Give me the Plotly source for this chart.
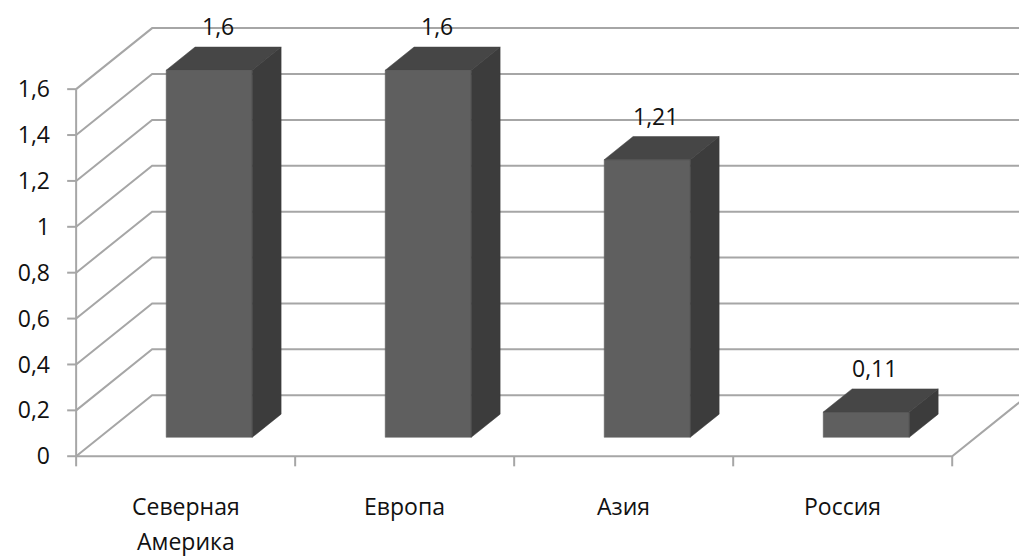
import plotly.graph_objects as go

# Data
categories = ["Северная<br>Америка", "Европа", "Азия", "Россия"]
values = [1.6, 1.6, 1.21, 0.11]
value_labels = ["1,6", "1,6", "1,21", "0,11"]
tick_values = [0, 0.2, 0.4, 0.6, 0.8, 1.0, 1.2, 1.4, 1.6]
tick_labels = ["0", "0,2", "0,4", "0,6", "0,8", "1", "1,2", "1,4", "1,6"]

# Oblique 3D projection (in axis units): offset of the full floor depth
DEPTH_X = 0.347
DEPTH_Y = 0.266
BAR_FRONT = 0.31      # bar front plane, as fraction of depth
BAR_BACK = 0.69       # bar back plane
BAR_WIDTH = 0.393     # bar width as fraction of category slot

GRID = "#a6a6a6"
FRONT = "#5f5f5f"
TOP = "#464646"
SIDE = "#3c3c3c"
TEXT = "#111111"
FONT = "Open Sans"
FONT_SIZE = 23

n = len(categories)
y_max = tick_values[-1]

fig = go.Figure()


def add_line(xs, ys, color=GRID, width=2):
    fig.add_trace(go.Scatter(x=xs, y=ys, mode="lines",
                             line=dict(color=color, width=width),
                             hoverinfo="skip", showlegend=False))


def add_face(xs, ys, color):
    fig.add_trace(go.Scatter(x=xs + [xs[0]], y=ys + [ys[0]], mode="lines",
                             fill="toself", fillcolor=color,
                             line=dict(color=color, width=0.5),
                             hoverinfo="skip", showlegend=False))


# Side-wall diagonals and back-wall gridlines
gx, gy = [], []
for t in tick_values:
    gx += [0, DEPTH_X, n + DEPTH_X, None]
    gy += [t, t + DEPTH_Y, t + DEPTH_Y, None]
add_line(gx, gy)

# Floor: front edge and right edge
add_line([0, n, n + DEPTH_X], [0, 0, DEPTH_Y])

# Category tick marks under the floor
cx, cy = [], []
for i in range(n + 1):
    cx += [i, i, None]
    cy += [0, -0.044, None]
add_line(cx, cy)

# Front value axis with its tick marks
add_line([0, 0], [0, y_max])
tx, ty = [], []
for t in tick_values:
    tx += [-0.041, 0, None]
    ty += [t, t, None]
add_line(tx, ty)

# Bars: front, top and right faces
ox0, oy0 = BAR_FRONT * DEPTH_X, BAR_FRONT * DEPTH_Y
ox1, oy1 = BAR_BACK * DEPTH_X, BAR_BACK * DEPTH_Y
for i, v in enumerate(values):
    xl = i + 0.5 - BAR_WIDTH / 2
    xr = i + 0.5 + BAR_WIDTH / 2
    add_face([xl + ox0, xr + ox0, xr + ox0, xl + ox0],
             [oy0, oy0, v + oy0, v + oy0], FRONT)
    add_face([xl + ox0, xr + ox0, xr + ox1, xl + ox1],
             [v + oy0, v + oy0, v + oy1, v + oy1], TOP)
    add_face([xr + ox0, xr + ox1, xr + ox1, xr + ox0],
             [oy0, oy1, v + oy1, v + oy0], SIDE)

annotations = []
# Value labels above the bars
for i, (v, lab) in enumerate(zip(values, value_labels)):
    annotations.append(dict(x=i + 0.5, y=v, xref="x", yref="y", text=lab,
                            showarrow=False, xshift=32, yshift=63,
                            xanchor="center", yanchor="middle",
                            font=dict(family=FONT, size=FONT_SIZE, color=TEXT)))

# Category labels (one annotation per text line)
for i, cat in enumerate(categories):
    for k, line in enumerate(cat.split("<br>")):
        annotations.append(dict(x=i + 0.5, y=0, xref="x", yref="y", text=line,
                                showarrow=False, yshift=-50 - 35 * k,
                                xanchor="center", yanchor="middle",
                                font=dict(family=FONT, size=FONT_SIZE, color=TEXT)))

fig.update_layout(
    width=1019, height=556,
    margin=dict(l=63, r=0, t=10, b=86),
    paper_bgcolor="white", plot_bgcolor="white",
    xaxis=dict(range=[-0.06, 4.305], visible=False, fixedrange=True),
    yaxis=dict(range=[-0.06, 1.945], showgrid=False, zeroline=False,
               showline=False, ticks="", tickvals=tick_values,
               ticktext=tick_labels, ticklabelstandoff=12,
               tickfont=dict(family=FONT, size=FONT_SIZE, color=TEXT),
               fixedrange=True),
    annotations=annotations,
    showlegend=False,
)

fig.write_html("out.html", config={"displayModeBar": False})
